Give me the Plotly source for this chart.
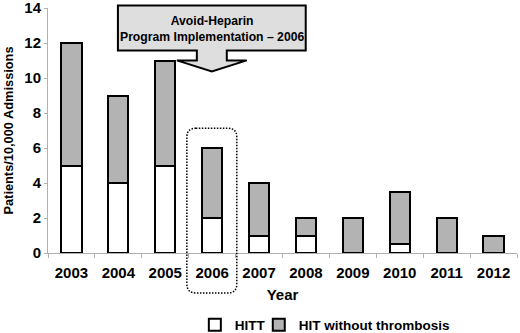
import plotly.graph_objects as go

years = ["2003", "2004", "2005", "2006", "2007", "2008", "2009", "2010", "2011", "2012"]
hitt = [5, 4, 5, 2, 1, 1, 0, 0.5, 0, 0]
hit_no_thrombosis = [7, 5, 6, 4, 3, 1, 2, 3, 2, 1]
y_ticks = [0, 2, 4, 6, 8, 10, 12, 14]

W, H = 520, 333
# plot area in page pixels
PL, PR, PT, PB = 48, 517.5, 7.5, 253
L, R, T, B = PL, W - PR, PT, H - PB
PW, PH = PR - PL, PB - PT


def px(x):
    return (x - PL) / PW


def py(y):
    return (PB - y) / PH


FONT = "Liberation Sans, Arial, sans-serif"

fig = go.Figure()
fig.add_bar(x=years, y=hitt, name="HITT", legend="legend",
            marker=dict(color="white", line=dict(color="black", width=2)))
fig.add_bar(x=years, y=hit_no_thrombosis, name="HIT without thrombosis", legend="legend2",
            marker=dict(color="#b3b3b3", line=dict(color="black", width=2)))

# callout box with arrow (page pixels)
pts = [(118, 5), (306, 5), (306, 50), (227, 50), (227, 60), (247, 60), (212, 71),
       (177, 60), (197, 60), (197, 50), (118, 50)]
path = "M " + " L ".join(f"{px(a):.5f},{py(b):.5f}" for a, b in pts) + " Z"

# dotted rounded rect
x0, x1, y0, y1, r = 187, 237, 128, 293, 9
rr = [("M", (x0 + r, y0)), ("L", (x1 - r, y0)), ("Q", (x1, y0), (x1, y0 + r)), ("L", (x1, y1 - r)),
      ("Q", (x1, y1), (x1 - r, y1)), ("L", (x0 + r, y1)), ("Q", (x0, y1), (x0, y1 - r)),
      ("L", (x0, y0 + r)), ("Q", (x0, y0), (x0 + r, y0))]
rpath = ""
for seg in rr:
    cmd = seg[0]
    rpath += cmd + " " + " ".join(f"{px(a):.5f},{py(b):.5f}" for a, b in seg[1:]) + " "
rpath += "Z"

legend_font = dict(family=FONT, size=13.5, color="black", weight="bold")
fig.update_layout(
    width=W, height=H,
    margin=dict(l=L, r=R, t=T, b=B, autoexpand=False),
    barmode="stack",
    bargap=0.57,
    plot_bgcolor="white", paper_bgcolor="white",
    font=dict(family=FONT, size=15, color="black"),
    showlegend=True,
    legend=dict(orientation="h", x=px(195), y=py(325), xanchor="left", yanchor="middle",
                font=legend_font, itemwidth=30, bgcolor="rgba(0,0,0,0)"),
    legend2=dict(orientation="h", x=px(259), y=py(325), xanchor="left", yanchor="middle",
                 font=legend_font, itemwidth=30, bgcolor="rgba(0,0,0,0)"),
    shapes=[
        dict(type="path", path=path, xref="paper", yref="paper", fillcolor="#dedede",
             line=dict(color="black", width=2), layer="above"),
        dict(type="path", path=rpath, xref="paper", yref="paper",
             line=dict(color="black", width=1.5, dash="1.5px,1.5px"), layer="above"),
    ],
    annotations=[
        dict(text="<b>Avoid-Heparin<br>Program Implementation – 2006</b>", x=px(212), y=py(29),
             xref="paper", yref="paper", showarrow=False, align="center",
             font=dict(family=FONT, size=12.2), xanchor="center", yanchor="middle"),
    ],
)
fig.update_xaxes(
    automargin=False,
    showline=True, linecolor="#b0b0b0", linewidth=1,
    ticks="outside", tickson="boundaries", ticklen=4, tickcolor="#b0b0b0",
    tickfont=dict(family=FONT, size=15, weight="bold"),
    ticklabelstandoff=6,
    title=dict(text="Year", font=dict(family=FONT, size=15, weight="bold"), standoff=9),
)
fig.update_yaxes(
    automargin=False,
    range=[0, 14], tickvals=y_ticks, showgrid=False, zeroline=False,
    showline=True, linecolor="#b0b0b0", linewidth=1,
    tickfont=dict(family=FONT, size=15, weight="bold"),
    ticklabeloverflow="allow",
    ticks="outside", ticklen=3, tickcolor="#b0b0b0",
    title=dict(text="Patients/10,000 Admissions", font=dict(family=FONT, size=12.8, weight="bold"), standoff=7),
)
fig.write_html("out.html", config={"displayModeBar": False},
               post_script="document.body.style.margin='0';")
